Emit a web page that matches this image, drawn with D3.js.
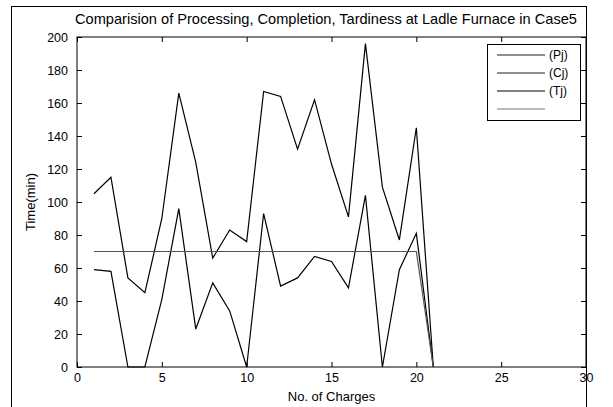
<!DOCTYPE html>
<html>
<head>
<meta charset="utf-8">
<script src="https://cdn.jsdelivr.net/npm/d3@7"></script>
<style>
  html, body { margin: 0; padding: 0; background: #fff; }
  svg { display: block; font-family: "Liberation Sans", Arial, sans-serif; }
</style>
</head>
<body>
<div id="grafica"></div>
<script>
// datos
const cargas = [1, 2, 3, 4, 5, 6, 7, 8, 9, 10, 11, 12, 13, 14, 15, 16, 17, 18, 19, 20, 21];
const completion = [105, 115, 54, 45, 90, 166, 124, 66, 83, 76, 167, 164, 132, 162, 123, 91, 196, 109, 77, 145, 0];
const tardiness = [59, 58, 0, 0, 41, 96, 23, 51, 34, 0, 93, 49, 54, 67, 64, 48, 104, 0, 59, 81, 0];
const processing = [70, 70, 70, 70, 70, 70, 70, 70, 70, 70, 70, 70, 70, 70, 70, 70, 70, 70, 70, 70, 0];
const xTicks = [0, 5, 10, 15, 20, 25, 30];
const yTicks = [0, 20, 40, 60, 80, 100, 120, 140, 160, 180, 200];
const leyenda = ["(Pj)", "(Cj)", "(Tj)", ""];
const titulo = "Comparision of Processing, Completion, Tardiness at Ladle Furnace in Case5";

const W = 613, H = 407;
const margin = { top: 37, right: 27, bottom: 40, left: 77 };
const width = W - margin.left - margin.right;
const height = H - margin.top - margin.bottom;

const svg = d3.select("#grafica")
    .append("svg")
    .attr("width", W)
    .attr("height", H);

// marco de la figura
svg.append("rect")
    .attr("x", 11.5).attr("y", 6.5)
    .attr("width", 575).attr("height", 420)
    .attr("fill", "none")
    .attr("stroke", "#000")
    .attr("stroke-width", 1);

const g = svg.append("g")
    .attr("transform", `translate(${margin.left},${margin.top})`);

const x = d3.scaleLinear().domain([0, 30]).range([0, width]);
const y = d3.scaleLinear().domain([0, 200]).range([height, 0]);

// ejes estilo matlab, ticks hacia dentro en los cuatro lados
function estiloEje(sel) {
    sel.select(".domain").remove();
    sel.selectAll("line").attr("stroke", "#000");
    sel.selectAll("text").attr("fill", "#000").style("font-size", "12.5px");
}

g.append("g")
    .attr("transform", `translate(0,${height})`)
    .call(d3.axisBottom(x).tickValues(xTicks).tickSizeInner(-5).tickSizeOuter(0).tickPadding(6))
    .call(estiloEje);

g.append("g")
    .call(d3.axisTop(x).tickValues(xTicks).tickSizeInner(-5).tickSizeOuter(0).tickFormat(""))
    .call(estiloEje);

g.append("g")
    .call(d3.axisLeft(y).tickValues(yTicks).tickSizeInner(-5).tickSizeOuter(0).tickPadding(9))
    .call(estiloEje);

g.append("g")
    .attr("transform", `translate(${width},0)`)
    .call(d3.axisRight(y).tickValues(yTicks).tickSizeInner(-5).tickSizeOuter(0).tickFormat(""))
    .call(estiloEje);

g.append("rect")
    .attr("width", width).attr("height", height)
    .attr("fill", "none")
    .attr("stroke", "#000")
    .attr("stroke-width", 1);

// lineas
const linea = d3.line()
    .x((d, i) => x(cargas[i]))
    .y(d => y(d));

const series = [
    { valores: completion, color: "#000" },
    { valores: tardiness, color: "#000" },
    { valores: processing, color: "#555" }
];

g.selectAll(".serie")
    .data(series)
    .enter()
    .append("path")
    .attr("class", "serie")
    .attr("d", d => linea(d.valores))
    .attr("fill", "none")
    .attr("stroke", d => d.color)
    .attr("stroke-width", 1.2);

// titulo y etiquetas
svg.append("text")
    .attr("x", 326)
    .attr("y", 24)
    .attr("text-anchor", "middle")
    .style("font-size", "14.6px")
    .text(titulo);

svg.append("text")
    .attr("x", margin.left + width / 2)
    .attr("y", 401)
    .attr("text-anchor", "middle")
    .style("font-size", "13px")
    .text("No. of Charges");

svg.append("text")
    .attr("transform", `translate(35,${margin.top + height / 2}) rotate(-90)`)
    .attr("text-anchor", "middle")
    .style("font-size", "13px")
    .text("Time(min)");

// leyenda
const coloresLeyenda = ["#222", "#222", "#000", "#777"];
const caja = svg.append("g").attr("transform", "translate(487,44)");
caja.append("rect")
    .attr("x", 0.5).attr("y", 0.5)
    .attr("width", 93).attr("height", 76)
    .attr("fill", "#fff")
    .attr("stroke", "#000");

const entradas = caja.selectAll(".entrada")
    .data(leyenda)
    .enter()
    .append("g")
    .attr("transform", (d, i) => `translate(0,${11 + i * 18})`);

entradas.append("line")
    .attr("x1", 10).attr("x2", 58)
    .attr("stroke", (d, i) => coloresLeyenda[i])
    .attr("stroke-width", 1.2);

entradas.append("text")
    .attr("x", 62)
    .attr("dy", "0.35em")
    .style("font-size", "12px")
    .text(d => d);
</script>
</body>
</html>
